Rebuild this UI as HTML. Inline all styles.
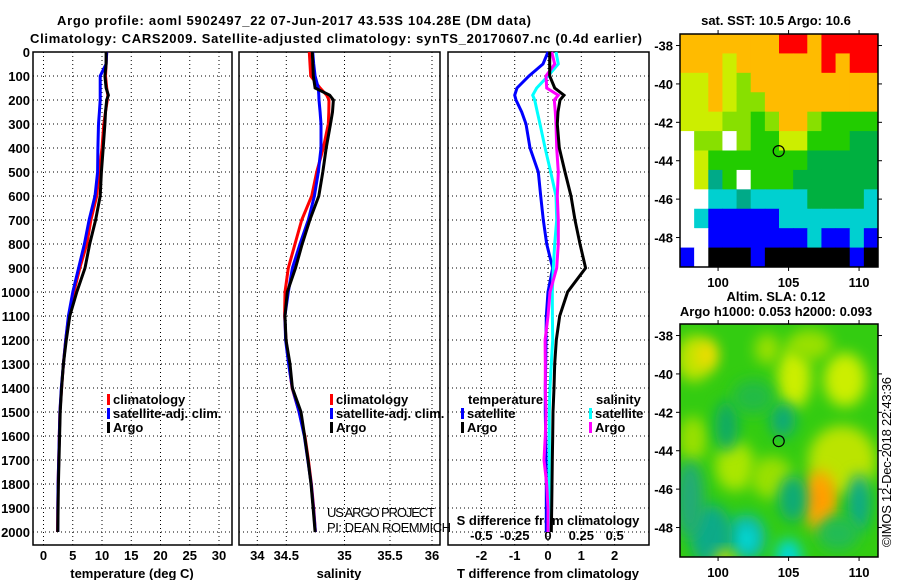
<!DOCTYPE html>
<html><head><meta charset="utf-8"><style>
html,body{margin:0;padding:0;background:#fff;}
svg{display:block;font-family:"Liberation Sans",Arial,sans-serif;}
.b{font-weight:bold;font-size:13px;}
</style></head><body>
<svg id="fig" width="900" height="580" viewBox="0 0 900 580" xmlns="http://www.w3.org/2000/svg">
<defs>
<filter id="blur" x="-50%" y="-50%" width="200%" height="200%"><feGaussianBlur stdDeviation="7"/></filter>
<clipPath id="clipSla"><rect x="680" y="324" width="198" height="233"/></clipPath>
</defs>
<text class="b" x="57" y="25" textLength="474">Argo profile: aoml 5902497_22 07-Jun-2017 43.53S 104.28E (DM data)</text>
<text class="b" x="30" y="43" textLength="612">Climatology: CARS2009. Satellite-adjusted climatology: synTS_20170607.nc (0.4d earlier)</text>
<g id="layer"></g>
</svg>
<script>
// ---------- data ----------
const depthTicks = [0,100,200,300,400,500,600,700,800,900,1000,1100,1200,1300,1400,1500,1600,1700,1800,1900,2000];
const tempTicks = [0,5,10,15,20,25,30];
const salTicks = [34,34.5,35,35.5,36];
const salTickLabels = ["34","34.5","35","35.5","36"];
const tdiffTicks = [-2,-1,0,1,2];
const sdiffTicks = [-0.5,-0.25,0,0.25,0.5];
const sdiffTickLabels = ["-0.5","-0.25","0","0.25","0.5"];

const depths = [0,50,100,150,180,200,250,300,400,500,600,700,800,900,1000,1100,1200,1300,1400,1500,1600,1700,1800,1900,2000];
const tempArgo = [10.7,10.7,10.5,10.7,11.1,10.8,10.6,10.5,10.2,9.9,9.7,8.9,7.9,7.1,5.7,4.5,3.9,3.4,3.1,2.85,2.75,2.65,2.55,2.5,2.45];
const tempClim = [10.8,10.7,10.6,10.8,11.0,10.9,10.6,10.3,10.0,9.5,9.1,8.1,7.4,6.2,5.2,4.3,3.8,3.4,3.1,2.8,2.7,2.6,2.5,2.45,2.4];
const tempSat  = [10.8,10.7,9.7,9.7,9.7,9.7,9.55,9.4,9.3,9.25,8.8,7.8,7.0,6.0,5.0,4.25,3.8,3.4,3.05,2.8,2.7,2.6,2.5,2.45,2.45];
const salArgo = [34.723,34.728,34.732,34.747,34.873,34.905,34.897,34.880,34.843,34.814,34.779,34.702,34.637,34.579,34.509,34.478,34.495,34.532,34.552,34.626,34.657,34.686,34.712,34.73,34.747];
const salClim = [34.698,34.704,34.710,34.790,34.847,34.867,34.865,34.861,34.818,34.761,34.718,34.632,34.575,34.517,34.478,34.470,34.495,34.522,34.550,34.61,34.66,34.69,34.716,34.735,34.75];
const salSat  = [34.727,34.735,34.747,34.775,34.779,34.781,34.790,34.798,34.798,34.775,34.741,34.689,34.618,34.552,34.517,34.475,34.488,34.52,34.552,34.61,34.655,34.685,34.714,34.733,34.75];
const tdiffSat  = [0,-0.15,-0.57,-0.93,-1.0,-0.96,-0.79,-0.66,-0.54,-0.29,-0.22,-0.14,-0.04,0.14,0.0,-0.05,-0.06,-0.07,-0.08,-0.08,-0.07,-0.06,-0.05,-0.05,-0.05];
const tdiffArgo = [0.05,0.05,0.05,0.2,0.48,0.36,0.3,0.28,0.34,0.51,0.69,0.81,0.96,1.13,0.59,0.35,0.25,0.2,0.18,0.15,0.14,0.13,0.12,0.11,0.1];
const sdiffSat  = [0.06,0.077,0.0,-0.085,-0.115,-0.1,-0.08,-0.06,-0.022,0.02,0.06,0.065,0.05,0.04,0.032,0.033,0.035,0.025,0.015,0.01,0.01,0.01,0.01,0.01,0.01];
const sdiffArgo = [0.028,0.05,-0.015,-0.01,0.077,0.047,0.055,0.06,0.065,0.077,0.07,0.077,0.077,0.065,0.015,0.0,-0.022,-0.02,-0.02,-0.015,-0.02,-0.03,-0.01,0.0,0.0];

const latTicks = [-38,-40,-42,-44,-46,-48];
const lonTicks = [100,105,110];
const argoLon = 104.3, argoLat = -43.5;

// ---------- scales ----------
const yD = d => 52 + d*0.24;
const xT = v => 43.5 + v*5.85;
const salPx = [257.3,286.3,344.5,390,432];
function xS(v){
  for(let i=0;i<salTicks.length-1;i++){
    if(v<=salTicks[i+1]||i===salTicks.length-2){
      const f=(v-salTicks[i])/(salTicks[i+1]-salTicks[i]);
      return salPx[i]+f*(salPx[i+1]-salPx[i]);
    }
  }
}
const xTd = v => 548 + v*33.3;
const xSd = v => 548 + v*133.3;
const mapX = lon => 680 + (lon-97.3)*14.1;
const mapY = (lat,top) => top + (-37.4-lat)*19.2;

const NS="http://www.w3.org/2000/svg";
const layer=document.getElementById('layer');
function mk(tag,attrs,parent){const e=document.createElementNS(NS,tag);for(const k in attrs)e.setAttribute(k,attrs[k]);(parent||layer).appendChild(e);return e;}
function txt(x,y,s,cls,anchor,parent){const t=mk('text',{x:x,y:y,'text-anchor':anchor||'start'},parent);if(cls)t.setAttribute('class',cls);t.textContent=s;return t;}

const panels=[{x0:33,x1:232,name:'temperature-panel'},{x0:239,x1:440,name:'salinity-panel'},{x0:448,x1:649,name:'difference-panel'}];
const yTop=52,yBot=545;

panels.forEach((p,pi)=>{
  const g=mk('g',{});
  
  
  // horizontal grid
  depthTicks.forEach(d=>{
    if(d===0)return;
    const l=mk('line',{x1:p.x0,x2:p.x1,y1:yD(d),y2:yD(d),stroke:'#000','stroke-width':1,'stroke-dasharray':'1,3'},g);
    
    
  });
  let xs=[];
  if(pi===0) xs=tempTicks.map(xT);
  if(pi===1) xs=salTicks.map(xS);
  if(pi===2) xs=tdiffTicks.map(xTd);
  xs.forEach(x=>{
    const l=mk('line',{x1:x,x2:x,y1:yTop,y2:yBot,stroke:'#000','stroke-width':1,'stroke-dasharray':'1,3'},g);
    
    
  });
  const r=mk('rect',{x:p.x0,y:yTop,width:p.x1-p.x0,height:yBot-yTop,fill:'none',stroke:'#000','stroke-width':1.5},g);
  
  
});

// depth labels
depthTicks.forEach(d=>{
  const t=txt(30,yD(d)+5,String(d),'b','end');
  
  
});
// x tick labels
tempTicks.forEach(v=>{const t=txt(xT(v),560,String(v),'b','middle');});
salTicks.forEach((v,i)=>{const t=txt(xS(v),560,salTickLabels[i],'b','middle');});
tdiffTicks.forEach(v=>{const t=txt(xTd(v),560,String(v),'b','middle');});
sdiffTicks.forEach((v,i)=>{const t=txt(xSd(v),540,sdiffTickLabels[i],'b','middle');});
let t;
t=txt(132,578,'temperature (deg C)','b','middle');
t=txt(339,578,'salinity','b','middle');
t=txt(548,578,'T difference from climatology','b','middle');
t=txt(548,525,'S difference from climatology','b','middle');
t=txt(327,517,'US ARGO PROJECT',null,'start');t.setAttribute('font-size','13');t.setAttribute('textLength','108');
t=txt(327,532,'PI: DEAN ROEMMICH',null,'start');t.setAttribute('font-size','13');t.setAttribute('textLength','124');

// series
function series(vals,xf,color,name){
  const pts=vals.map((v,i)=>xf(v).toFixed(1)+','+yD(depths[i]).toFixed(1)).join(' ');
  const pl=mk('polyline',{points:pts,fill:'none',stroke:color,'stroke-width':3,'stroke-linejoin':'miter'});
  
  
}
series(tempClim,xT,'#f00','temperature-climatology-line');
series(tempSat,xT,'#00f','temperature-satellite-line');
series(tempArgo,xT,'#000','temperature-argo-line');
series(salClim,xS,'#f00','salinity-climatology-line');
series(salSat,xS,'#00f','salinity-satellite-line');
series(salArgo,xS,'#000','salinity-argo-line');
series(tdiffSat,xTd,'#00f','tdiff-satellite-line');
series(sdiffSat,xSd,'#0ff','sdiff-satellite-line');
series(sdiffArgo,xSd,'#f0f','sdiff-argo-line');
series(tdiffArgo,xTd,'#000','tdiff-argo-line');

// legends
function legend(x,y,color,label,name){
  const g=mk('g',{});
  
  
  mk('rect',{x:x,y:y-10,width:3,height:11,fill:color},g);
  const tt=txt(x+6,y,label,'b','start',g);
}
legend(107,404,'#f00','climatology','legend-climatology');
legend(107,418,'#00f','satellite-adj. clim.','legend-satellite');
legend(107,432,'#000','Argo','legend-argo');
legend(330,404,'#f00','climatology','legend-sal-climatology');
legend(330,418,'#00f','satellite-adj. clim.','legend-sal-satellite');
legend(330,432,'#000','Argo','legend-sal-argo');
t=txt(468,404,'temperature','b','start');
legend(461,418,'#00f','satellite','legend-tdiff-satellite');
legend(461,432,'#000','Argo','legend-tdiff-argo');
t=txt(596,404,'salinity','b','start');
legend(589,418,'#0ff','satellite','legend-sdiff-satellite');
legend(589,432,'#f0f','Argo','legend-sdiff-argo');

// ---------- SST map ----------
const sstRows=[
"OOOOOOORRORRRR",
"OOOYOOOOOORORR",
"YYOYLOOOOOOOOO",
"YYOYLLOOOOOOOO",
"YYYLLGLOOLGGGG",
"WLLWLGGYYGGGDD",
"WYGGGGGGGDDDDD",
"WYTGWGGGDDDDDD",
"WWCCTCCCCDDDDC",
"WCBBBBBCCCCCCC",
"WWBBBBBBBCBBCB",
"BWKKKBKKKKKKBK"];
const pal={O:'#ffbb00',R:'#ff0000',Y:'#ccee00',L:'#88e000',G:'#22cc00',D:'#00b040',T:'#00aa88',C:'#00d0d0',B:'#0000ff',K:'#000000',W:'#ffffff'};
const sstTop=34;
const sstG=mk('g',{});


const cw=198/14, ch=233/12;
sstRows.forEach((row,ri)=>{
  for(let ci=0;ci<row.length;ci++){
    mk('rect',{x:(680+ci*cw).toFixed(2),y:(sstTop+ri*ch).toFixed(2),width:(cw+0.5).toFixed(2),height:(ch+0.5).toFixed(2),fill:pal[row[ci]]},sstG);
  }
});
mk('rect',{x:680,y:34,width:198,height:233,fill:'none',stroke:'#000','stroke-width':1.5},sstG);

// ---------- SLA map ----------
const slaTop=324;
const slaG=mk('g',{'clip-path':'url(#clipSla)'});


mk('rect',{x:680,y:324,width:198,height:233,fill:'#33cc11'},slaG);
const blobs=[
 [98.3,-39.2,1.3,1.2,'#bbe400'],[99.2,-39,0.8,0.8,'#eedd00'],[105.4,-40.2,1.2,1.6,'#ccee00'],[109,-40.3,1.5,1.4,'#ccee00'],
 [103.5,-38.7,0.9,0.8,'#99e000'],[106.5,-38.5,1.6,0.8,'#99e000'],[101.2,-44.8,1.4,1.3,'#aae600'],[103.8,-45.4,1.5,1.1,'#99e000'],
 [108.8,-44.5,2.4,1.8,'#bbe400'],[107.2,-46.6,1.2,1.6,'#ffaa00'],[107.2,-46.5,0.6,0.8,'#ff9900'],[98.2,-43.4,1,1.2,'#99e000'],
 [100.6,-42.7,0.8,1.3,'#11aa66'],[104.6,-42.4,0.9,0.9,'#11aa77'],[102,-48.5,1.4,1.2,'#11bbaa'],[102,-48.6,0.6,0.6,'#00dddd'],
 [105,-49.5,0.9,0.9,'#00d8d8'],[99.5,-48.4,1.5,1.6,'#11aa88'],[110,-46.7,0.8,1.5,'#11aa88'],[105.3,-46.5,1,1.2,'#11aa77'],
 [98,-46.5,1,2,'#22aa77'],[108.5,-48.3,1.5,0.9,'#22bb55'],[102.5,-41.2,1.5,0.9,'#22bb44'],[100.5,-49.6,0.8,0.4,'#ccdd00']
];
blobs.forEach(b=>{
  mk('ellipse',{cx:mapX(b[0]),cy:mapY(b[1],slaTop),rx:b[2]*14.1,ry:b[3]*19.2,fill:b[4],filter:'url(#blur)'},slaG);
});
const f2=mk('rect',{x:680,y:324,width:198,height:233,fill:'none',stroke:'#000','stroke-width':1.5});



// markers
[sstTop,slaTop].forEach((top,i)=>{
  const c=mk('circle',{cx:mapX(argoLon),cy:mapY(argoLat,top),r:5.5,fill:'none',stroke:'#000','stroke-width':1.2});
  
  
});
// map axes
[sstTop,slaTop].forEach((top,mi)=>{
  latTicks.forEach(v=>{
    const y=mapY(v,top);
    mk('line',{x1:676,x2:680,y1:y,y2:y,stroke:'#000'});
    mk('line',{x1:878,x2:882,y1:y,y2:y,stroke:'#000'});
    const tt=txt(673,y+5,String(v),'b','end');
    
    
  });
  lonTicks.forEach(v=>{
    const x=mapX(v);
    const bottom=top+233;
    mk('line',{x1:x,x2:x,y1:bottom,y2:bottom+4,stroke:'#000'});
    mk('line',{x1:x,x2:x,y1:top-4,y2:top,stroke:'#000'});
    const tt=txt(x,bottom+20,String(v),'b','middle');
    
    
  });
});
t=txt(776,25,'sat. SST: 10.5 Argo: 10.6','b','middle');
t=txt(776,301,'Altim. SLA: 0.12','b','middle');
t=txt(776,316,'Argo h1000: 0.053 h2000: 0.093','b','middle');
t=txt(0,0,'©IMOS 12-Dec-2018 22:43:36',null,'start');
t.setAttribute('font-size','13');
t.setAttribute('transform','translate(891,547) rotate(-90)');
t.setAttribute('textLength','170');


</script>
</body></html>
